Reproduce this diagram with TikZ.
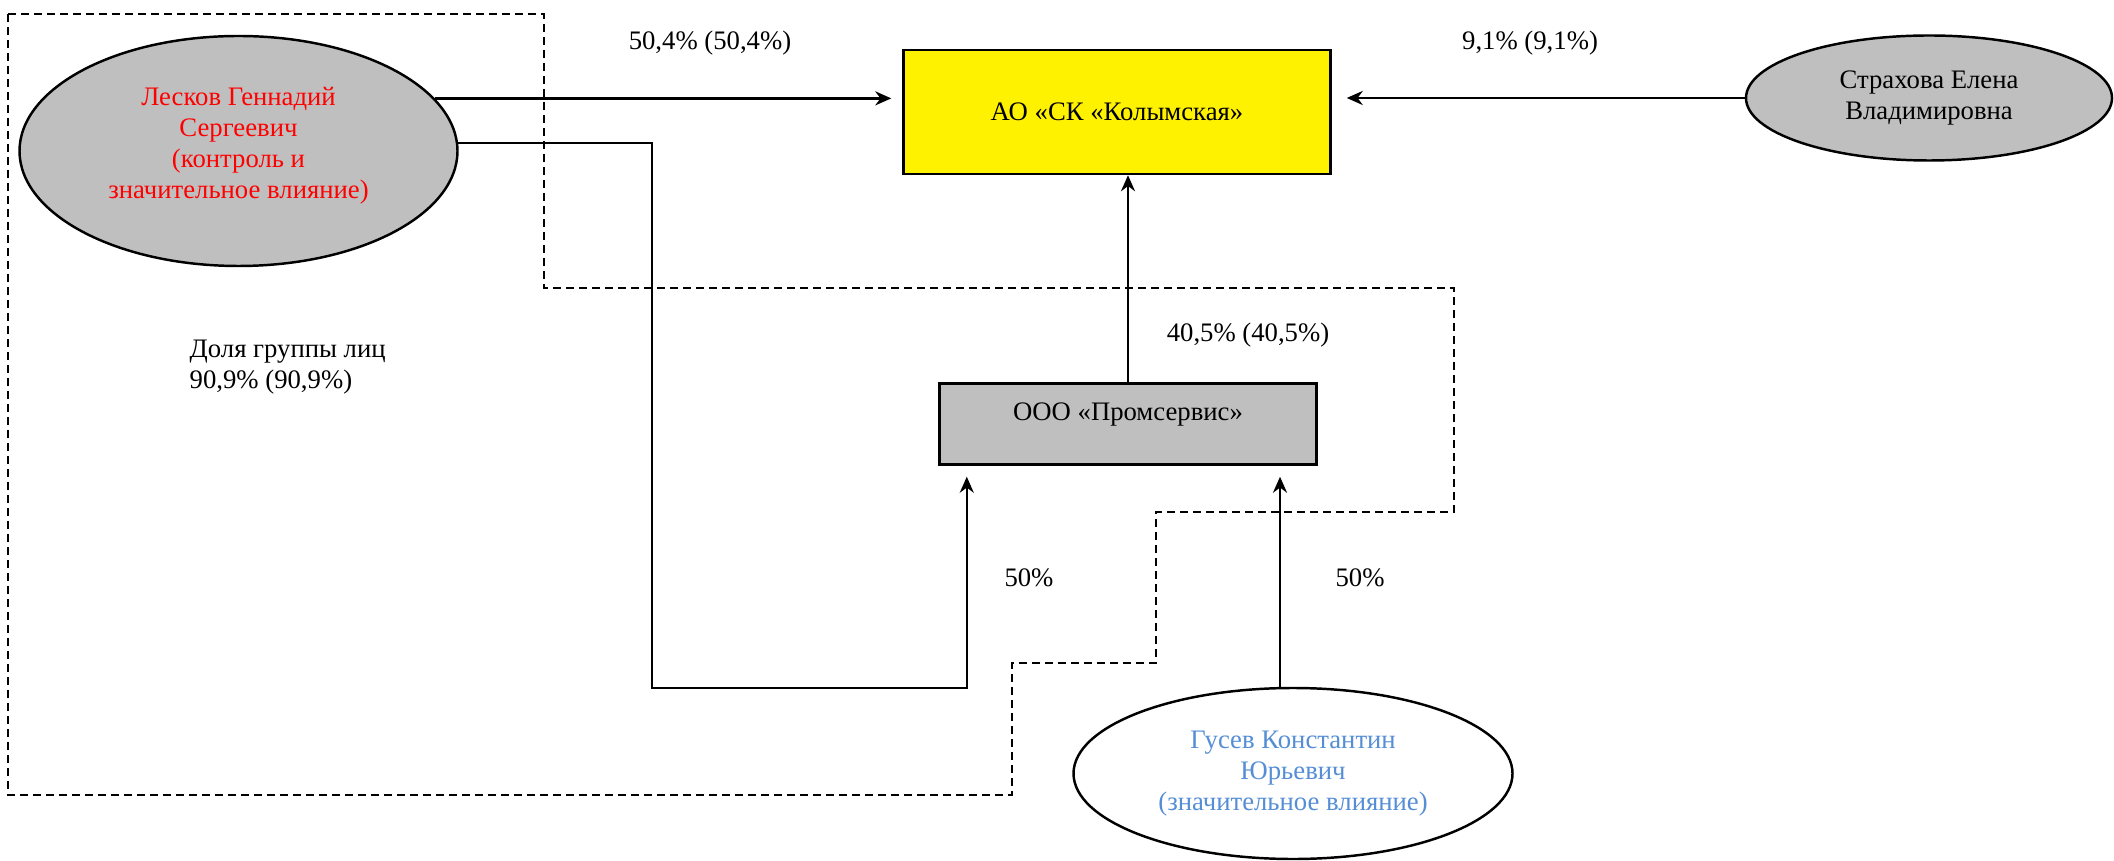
\documentclass[tikz,border=0pt]{standalone}
\usepackage{fontspec}
\setmainfont{Liberation Serif}
\usetikzlibrary{positioning, shapes.geometric, arrows.meta}

\definecolor{shareGray}{HTML}{BFBFBF}
\definecolor{infoBlue}{HTML}{558ED5}

\begin{document}
\begin{tikzpicture}[y=-1cm, font=\fontsize{7.6}{8.8}\selectfont]
  \tikzstyle{company} = [rectangle, draw, line width=0.7pt, inner sep=0pt]
  \tikzstyle{person} = [ellipse, draw, line width=0.7pt, inner sep=0pt, align=center]
  \tikzstyle{share} = [line width=0.75pt, -{Stealth[length=1.6mm, width=1.4mm]}]
  \tikzstyle{groupLine} = [line width=0.5pt, dash pattern=on 0.08cm off 0.05cm]

  \useasboundingbox (0,0) rectangle (21.14,8.61);

  % Draw group of persons
  \draw[groupLine] (0.08,0.14) -- (5.44,0.14) -- (5.44,2.88) -- (14.54,2.88)
    -- (14.54,5.12) -- (11.56,5.12) -- (11.56,6.63) -- (10.12,6.63)
    -- (10.12,7.95) -- (0.08,7.95) -- cycle;
  \node[anchor=west, align=left, inner sep=0pt] (groupShare) at (1.89,3.675)
    {Доля группы лиц\\90,9\% (90,9\%)};

  % Draw companies
  \node[company, fill=yellow, minimum width=4.27cm, minimum height=1.24cm] (AO) at (11.17,1.12)
    {АО «СК «Колымская»};
  \node[company, fill=shareGray, minimum width=3.77cm, minimum height=0.81cm,
    text height=0.2cm, text depth=0.27cm] (P) at (11.28,4.24) {ООО «Промсервис»};

  % Draw persons
  \node[person, fill=shareGray, text=red, minimum width=4.38cm, minimum height=2.30cm,
    text depth=0.17cm] (L)
    at (2.385,1.51) {Лесков Геннадий\\Сергеевич\\(контроль и\\значительное влияние)};
  \node[person, fill=shareGray, minimum width=3.66cm, minimum height=1.25cm] (S)
    at (19.29,0.98) {Страхова Елена\\Владимировна};
  \node[person, fill=white, text=infoBlue, minimum width=4.39cm, minimum height=1.71cm] (G)
    at (12.93,7.735) {Гусев Константин\\Юрьевич\\(значительное влияние)};

  % Connections
  \draw[share, shorten >=0.11cm] (L.15) -- (L.15 -| AO.west);
  \draw[share, shorten >=0.15cm] (S.west) -- (S.west -| AO.east);
  \draw[share] (P.north) -- (P.north |- AO.south);
  \draw[share, line width=0.55pt, shorten >=0.11cm] (L.2) -| (6.52,6.88)
    -| ([xshift=0.285cm]P.south west);
  \coordinate (Gtop) at ([xshift=-0.13cm]G.north);
  \draw[share, shorten >=0.11cm] (Gtop) -- (Gtop |- P.south);

  % Draw share labels
  \node (lblL) at (7.10,0.43) {50,4\% (50,4\%)};
  \node (lblS) at (15.30,0.43) {9,1\% (9,1\%)};
  \node (lblP) at (12.48,3.35) {40,5\% (40,5\%)};
  \node (lblLP) at (10.29,5.78) {50\%};
  \node (lblGP) at (13.60,5.78) {50\%};

\end{tikzpicture}
\end{document}
